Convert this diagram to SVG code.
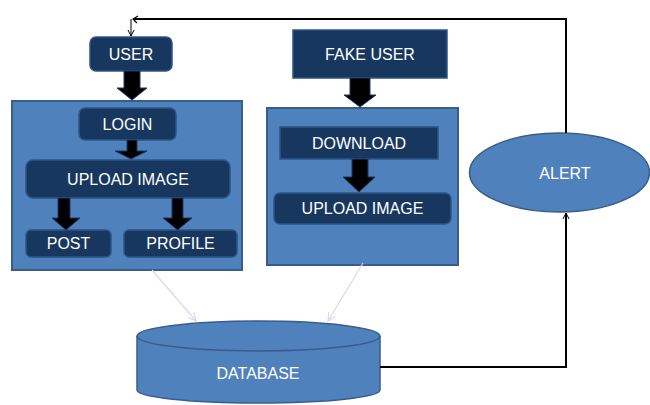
<svg xmlns="http://www.w3.org/2000/svg" width="650" height="405" viewBox="0 0 650 405">
  <style>
    .panel { fill: #4f81bd; stroke: #385d8a; stroke-width: 2; }
    .box { fill: #17375e; stroke: #2e5588; stroke-width: 1.5; }
    .label { fill: #ffffff; font-family: "Liberation Sans", Arial, sans-serif; font-size: 16px; text-anchor: middle; dominant-baseline: central; }
    .block { fill: #000000; stroke: #1f3864; stroke-width: 1; }
    .wire { fill: none; stroke: #000000; stroke-width: 2; }
    .faint { fill: none; stroke: #ddd6ec; stroke-width: 1.2; }
  </style>
  <defs>
    <marker id="open" markerWidth="8" markerHeight="8" refX="7" refY="4" orient="auto" markerUnits="userSpaceOnUse">
      <path d="M1,1 L7,4 L1,7" fill="none" stroke="#000" stroke-width="1"/>
    </marker>
    <marker id="faintHead" markerWidth="10" markerHeight="10" refX="9" refY="5" orient="auto" markerUnits="userSpaceOnUse">
      <path d="M1,1 L9,5 L1,9" fill="none" stroke="#ddd6ec" stroke-width="1.2"/>
    </marker>
  </defs>

  <!-- containers -->
  <g id="user-panel">
    <rect class="panel" x="12" y="101" width="230" height="169"/>
  </g>
  <g id="fake-panel">
    <rect class="panel" x="267" y="108" width="191" height="157"/>
  </g>

  <!-- nodes -->
  <g id="user">
    <rect class="box" x="90" y="37" width="82" height="34" rx="6"/>
    <text class="label" x="131" y="54">USER</text>
  </g>
  <g id="login">
    <rect class="box" x="79" y="108" width="97" height="32" rx="6"/>
    <text class="label" x="127.5" y="124">LOGIN</text>
  </g>
  <g id="upload-image">
    <rect class="box" x="26" y="160" width="204" height="38" rx="7"/>
    <text class="label" x="128" y="179">UPLOAD IMAGE</text>
  </g>
  <g id="post">
    <rect class="box" x="26" y="230" width="85" height="27" rx="5"/>
    <text class="label" x="68.5" y="243.5">POST</text>
  </g>
  <g id="profile">
    <rect class="box" x="124" y="230" width="113" height="27" rx="5"/>
    <text class="label" x="180.5" y="243.5">PROFILE</text>
  </g>
  <g id="fake-user">
    <rect class="box" x="293" y="30" width="154" height="48"/>
    <text class="label" x="370" y="54">FAKE USER</text>
  </g>
  <g id="download">
    <rect class="box" x="280" y="127" width="158" height="32"/>
    <text class="label" x="359" y="143">DOWNLOAD</text>
  </g>
  <g id="upload-image-2">
    <rect class="box" x="274" y="193" width="177" height="31" rx="6"/>
    <text class="label" x="362.5" y="208.5">UPLOAD IMAGE</text>
  </g>
  <g id="alert">
    <ellipse cx="559.5" cy="172.5" rx="90" ry="39.5" fill="#4f81bd" stroke="#385d8a" stroke-width="1.5"/>
    <text class="label" x="565" y="173">ALERT</text>
  </g>
  <g id="database">
    <path d="M137,336 L137,390 A121.5,13 0 0 0 380,390 L380,336" fill="#4f81bd" stroke="#385d8a" stroke-width="1.5"/>
    <ellipse cx="258.5" cy="336" rx="121.5" ry="15" fill="#4f81bd" stroke="#385d8a" stroke-width="1.5"/>
    <text class="label" x="258" y="373">DATABASE</text>
  </g>

  <!-- connectors -->
  <g id="connectors">
    <!-- block arrows -->
    <polygon class="block" points="124,71 140,71 140,88 147,88 132,100 117,88 124,88"/>
    <polygon class="block" points="127,140 137,140 137,151 147,151 131,159 115,151 127,151"/>
    <polygon class="block" points="58,198 70,198 70,218 80,218 66,230 52,218 58,218"/>
    <polygon class="block" points="172,198 183,198 183,218 192,218 177.5,230 163,218 172,218"/>
    <polygon class="block" points="350,78 370,78 370,95 376,95 360,107 344,95 350,95"/>
    <polygon class="block" points="352,159 368,159 368,177 375,177 359,192 343,177 352,177"/>

    <!-- faint links to database -->
    <line class="faint" x1="152" y1="270" x2="196" y2="321" marker-end="url(#faintHead)"/>
    <line class="faint" x1="363" y1="263" x2="328" y2="321" marker-end="url(#faintHead)"/>

    <!-- database to alert -->
    <polyline class="wire" points="380,367 566,367 566,213" marker-end="url(#open)"/>
    <!-- alert back to user -->
    <polyline class="wire" points="566,133 566,19 133,19"/>
    <path d="M138,16 L133,19 L137,23" fill="none" stroke="#000" stroke-width="1.2"/>
    <line x1="131" y1="19" x2="131" y2="36" stroke="#000" stroke-width="1" marker-end="url(#open)"/>
  </g>
</svg>
